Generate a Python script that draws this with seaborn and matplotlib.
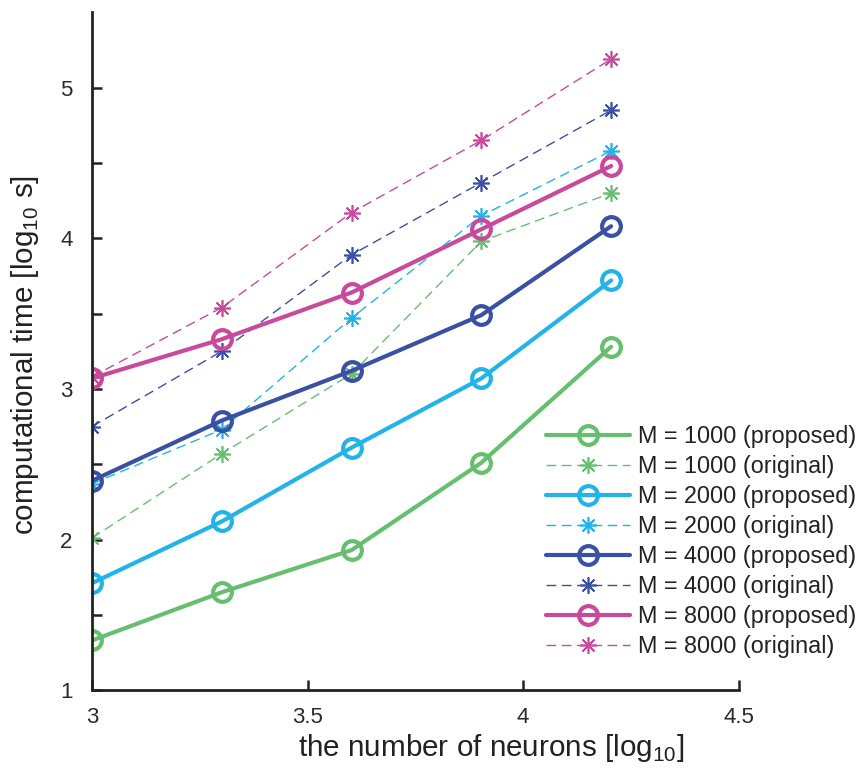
import numpy as np
import pandas as pd
import matplotlib
matplotlib.use("Agg")
import matplotlib.pyplot as plt
import seaborn as sns

# neuron counts on a log10 scale (1000 ... 16000)
x_log = [3.0, 3.301, 3.602, 3.903, 4.204]

m_values = [1000, 2000, 4000, 8000]
proposed = {
    1000: [1.33, 1.65, 1.93, 2.51, 3.28],
    2000: [1.71, 2.12, 2.61, 3.07, 3.72],
    4000: [2.39, 2.79, 3.12, 3.49, 4.08],
    8000: [3.07, 3.33, 3.64, 4.06, 4.48],
}
original = {
    1000: [2.01, 2.57, 3.10, 3.98, 4.30],
    2000: [2.37, 2.73, 3.47, 4.15, 4.58],
    4000: [2.75, 3.25, 3.89, 4.37, 4.85],
    8000: [3.08, 3.54, 4.17, 4.65, 5.19],
}
colors = {1000: "#66bf6e", 2000: "#22b4e8", 4000: "#3a51a3", 8000: "#c74a9c"}

sns.set_style("ticks")
plt.rcParams["font.family"] = ["Liberation Sans", "DejaVu Sans"]
plt.rcParams["mathtext.fontset"] = "custom"
plt.rcParams["mathtext.rm"] = "Liberation Sans"

fig = plt.figure(figsize=(8.59, 7.72), dpi=100)
ax = fig.add_axes([0.107, 0.106, 0.753, 0.878])

asterisk = (8, 2, 0)
for m in m_values:
    df_p = pd.DataFrame({"x": x_log, "y": proposed[m]})
    sns.lineplot(data=df_p, x="x", y="y", ax=ax, color=colors[m], lw=3.0,
                 marker="o", markersize=13.5, markerfacecolor="none",
                 markeredgecolor=colors[m], markeredgewidth=3.0,
                 label=f"M = {m} (proposed)", sort=False)
    df_o = pd.DataFrame({"x": x_log, "y": original[m]})
    sns.lineplot(data=df_o, x="x", y="y", ax=ax, color=colors[m], lw=1.0,
                 linestyle=(0, (7, 4)), marker=asterisk, markersize=12,
                 markeredgecolor=colors[m], markeredgewidth=1.2,
                 label=f"M = {m} (original)", sort=False)

ax.set_xlim(3, 4.5)
ax.set_ylim(1, 5.5)
ax.set_xticks([3, 3.5, 4, 4.5])
ax.set_xticklabels(["3", "3.5", "4", "4.5"])
ax.set_yticks([1, 1.5, 2, 2.5, 3, 3.5, 4, 4.5, 5])
ax.set_yticklabels(["1", "", "2", "", "3", "", "4", "", "5"])

for side in ["top", "right"]:
    ax.spines[side].set_visible(False)
for side in ["left", "bottom"]:
    ax.spines[side].set_linewidth(2.0)
    ax.spines[side].set_color("#222222")

ax.tick_params(axis="both", direction="in", length=7, width=1.8,
               color="#222222", labelsize=16, labelcolor="#2a2a2a")
ax.tick_params(axis="y", pad=14)
ax.tick_params(axis="x", pad=12)
for lab in ax.get_xticklabels() + ax.get_yticklabels():
    lab.set_fontweight("medium")

ax.set_xlabel("the number of neurons [log$_{10}$]", fontsize=21.3, color="#222222")
ax.set_ylabel("computational time [log$_{10}$ s]", fontsize=21.3, color="#222222")
ax.xaxis.set_label_coords(0.617, -0.061)
ax.yaxis.set_label_coords(-0.078, 0.494)

leg = ax.legend(loc="lower right", bbox_to_anchor=(1.0, 0.145),
                bbox_transform=fig.transFigure, frameon=False, fontsize=16.8,
                handlelength=3.6, handletextpad=0.35, labelspacing=0.3,
                borderaxespad=0, borderpad=0.1)
for t in leg.get_texts():
    t.set_color("#222222")

fig.savefig("out.png", dpi=100)
